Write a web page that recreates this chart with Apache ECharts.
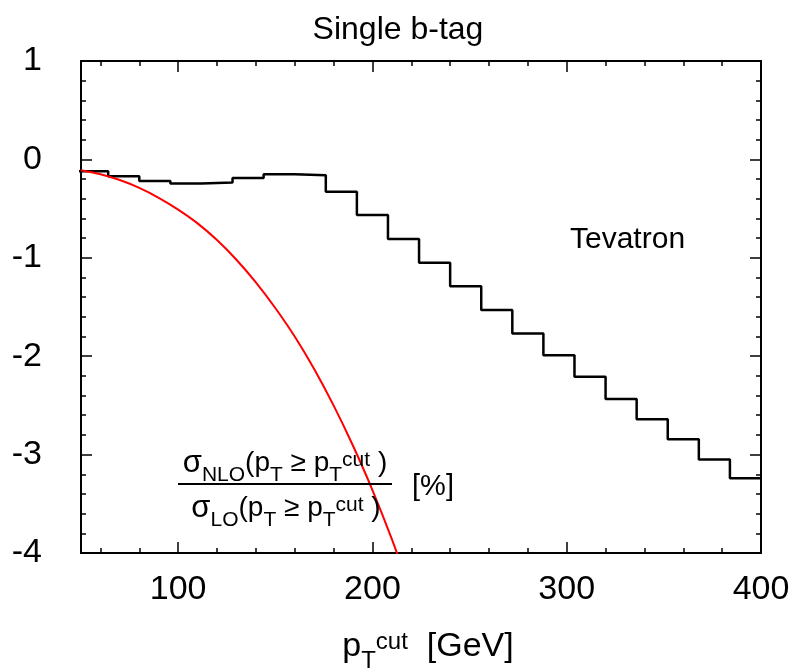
<!DOCTYPE html>
<html><head><meta charset="utf-8">
<script src="https://cdn.jsdelivr.net/npm/echarts@6/dist/echarts.min.js"></script>
<style>html,body{margin:0;padding:0;background:#fff}#c{width:796px;height:671px}</style>
</head><body><div id="c"></div>
<script>
// Histogram bin lower edges (last entry = upper edge of last bin), GeV
const binEdges = [48,64,80,96,112,128,144,160,176,192,208,224,240,256,272,288,304,320,336,352,368,384,400];
// Step histogram values (%), one per bin
const binValues = [-0.12,-0.17,-0.22,-0.245,-0.235,-0.19,-0.15,-0.16,-0.33,-0.565,-0.81,-1.05,-1.29,-1.53,-1.77,-1.99,-2.21,-2.435,-2.64,-2.845,-3.05,-3.24];
// Red curve
const curveX = [50,60,70,80,90,100,110,120,130,140,150,160,170,180,190,200,210,220];
const curveY = [-0.11,-0.15,-0.21,-0.29,-0.39,-0.51,-0.65,-0.82,-1.02,-1.25,-1.51,-1.80,-2.13,-2.50,-2.91,-3.36,-3.86,-4.41];
// Axis ticks
const xLabels = [100,200,300,400];
const xMinor = [60,80,120,140,160,180,220,240,260,280,320,340,360,380];

const FONT = 'Liberation Sans, Arial, Helvetica, sans-serif';
const stepData = binValues.map((v,i)=>[binEdges[i], v]);
stepData.push([binEdges[binEdges.length-1], binValues[binValues.length-1]]);
const curveData = curveX.map((x,i)=>[x, curveY[i]]);

function xAx(position, custom, len, withLine, withLabel){
  return {
    type:'value', min:50, max:400, position,
    axisLine:{show:withLine, onZero:false, lineStyle:{color:'#000', width:2}},
    axisTick:{show:true, inside:true, length:len, customValues:custom, lineStyle:{color:'#000', width:1.5}},
    axisLabel:{show:withLabel, customValues:xLabels, fontSize:34, color:'#000', margin:20, fontFamily:FONT},
    splitLine:{show:false}, minorTick:{show:false}, minorSplitLine:{show:false}
  };
}
function yAx(position, withLabel){
  return {
    type:'value', min:-4, max:1, interval:1, position,
    axisLine:{show:true, onZero:false, lineStyle:{color:'#000', width:2}},
    axisTick:{show:true, inside:true, length:11, lineStyle:{color:'#000', width:1.5}},
    minorTick:{show:true, splitNumber:5, length:5, lineStyle:{color:'#000', width:1.5}},
    axisLabel:{show:withLabel, fontSize:34, color:'#000', margin:39, fontFamily:FONT},
    splitLine:{show:false}
  };
}

const chart = echarts.init(document.getElementById('c'), null, {renderer:'canvas'});
const richFrac = {
  m:{fontSize:28, fontFamily:FONT, color:'#000', lineHeight:28},
  s:{fontSize:31, fontFamily:FONT, color:'#000', lineHeight:28},
  b:{fontSize:21, fontFamily:FONT, color:'#000', lineHeight:21, padding:[24,0,0,0]},
  p:{fontSize:21, fontFamily:FONT, color:'#000', lineHeight:21, padding:[0,0,6,0]}
};
const richName = {
  m:{fontSize:34, fontFamily:FONT, color:'#000', lineHeight:34},
  b:{fontSize:24, fontFamily:FONT, color:'#000', lineHeight:24, padding:[28,0,0,0]},
  p:{fontSize:24, fontFamily:FONT, color:'#000', lineHeight:24, padding:[0,0,10,0]}
};
chart.setOption({
  animation:false,
  backgroundColor:'#fff',
  grid:{left:81, right:35, top:61, bottom:118, containLabel:false},
  xAxis:[xAx('bottom', xLabels, 11, true, true), xAx('bottom', xMinor, 5, false, false),
         xAx('top', xLabels, 11, true, false), xAx('top', xMinor, 5, false, false)],
  yAxis:[yAx('left', true), yAx('right', false)],
  series:[
    {type:'line', xAxisIndex:0, yAxisIndex:0, data:stepData, step:'end', symbol:'none',
     lineStyle:{color:'#000', width:2.5}, clip:true, z:3},
    {type:'line', xAxisIndex:0, yAxisIndex:0, data:curveData, smooth:0.3, symbol:'none',
     lineStyle:{color:'#ff0000', width:2}, clip:true, z:4}
  ],
  graphic:[
    {type:'text', x:398, y:30, style:{text:'Single b-tag', font:'32px '+FONT, fill:'#000', align:'center', verticalAlign:'middle'}, z:10},
    {type:'text', x:428, y:647, style:{text:'{m|p}{b|T}{p|cut}{m|  [GeV]}', rich:richName, align:'center', verticalAlign:'middle'}, z:10},
    {type:'text', x:570, y:240, style:{text:'Tevatron', font:'30px '+FONT, fill:'#000', align:'left', verticalAlign:'middle'}, z:10},
    {type:'text', x:285, y:463, style:{text:'{s|σ}{b|NLO}{m|(p}{b|T}{m| ≥ p}{b|T}{p|cut}{m| )}', rich:richFrac, align:'center', verticalAlign:'middle'}, z:10},
    {type:'line', shape:{x1:178, y1:484, x2:392, y2:484}, style:{stroke:'#000', lineWidth:2}, z:10},
    {type:'text', x:286, y:508, style:{text:'{s|σ}{b|LO}{m|(p}{b|T}{m| ≥ p}{b|T}{p|cut}{m| )}', rich:richFrac, align:'center', verticalAlign:'middle'}, z:10},
    {type:'text', x:433, y:487, style:{text:'[%]', font:'29px '+FONT, fill:'#000', align:'center', verticalAlign:'middle'}, z:10}
  ]
});
</script></body></html>
